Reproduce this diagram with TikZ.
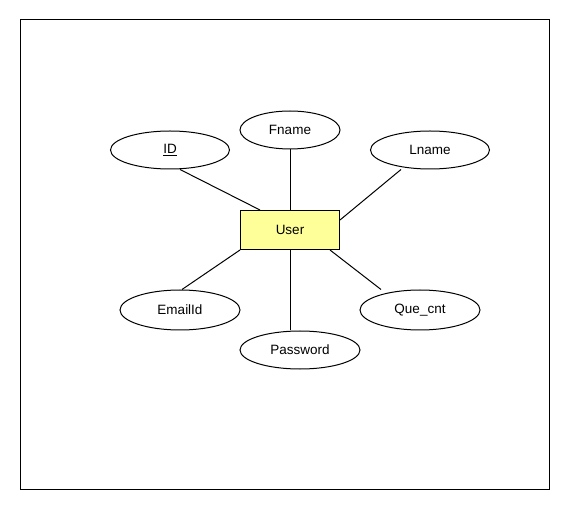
\documentclass[tikz,border=0pt]{standalone}
\usepackage{fontspec}
\setmainfont{Liberation Sans}
\usetikzlibrary{shapes.geometric}
\definecolor{entityfill}{RGB}{255,255,153}
\tikzset{
  attr/.style={draw,ellipse,line width=1pt,minimum width=119pt,minimum height=38pt,inner sep=0pt,font=\fontsize{13.5}{16}\selectfont},
  entity/.style={draw,rectangle,line width=1pt,fill=entityfill,minimum width=99pt,minimum height=39pt,inner sep=0pt,font=\fontsize{13.5}{16}\selectfont},
  link/.style={line width=1pt}
}
\begin{document}
\begin{tikzpicture}[x=1pt,y=-1pt]
                \useasboundingbox (0,0) rectangle (570,510);
                %% frame
                \draw[line width=1pt] (20,20) rectangle (549,489);
                %% entity
                \node[entity] (User) at (290,230) {User};
                %% attributes
                \node[attr] (ID) at (170,150) {\underline{ID}};
                \node[attr,minimum width=100pt] (Fname) at (290,130) {Fname};
                \node[attr] (Lname) at (430,150) {Lname};
                \node[attr,minimum width=120pt,minimum height=40pt] (EmailId) at (180,310) {EmailId};
                \node[attr,minimum width=120pt,minimum height=40pt] (Quecnt) at (420,310) {Que\_cnt};
                \node[attr,minimum width=120pt] (Password) at (300,350) {Password};
                %% links
                \draw[link] ([xshift=10pt]ID.south) -- ([xshift=-30pt]User.north);
                \draw[link] (Fname) -- (User);
                \draw[link] ([xshift=-29pt]Lname.south) -- ([yshift=10pt]User.east);
                \draw[link] ([xshift=2pt]EmailId.north) -- (User.south west);
                \draw[link] ([xshift=-39pt]Quecnt.north) -- ([xshift=40pt]User.south);
                \draw[link] ([xshift=-10pt]Password.north) -- (User.south);
            \end{tikzpicture}
\end{document}
